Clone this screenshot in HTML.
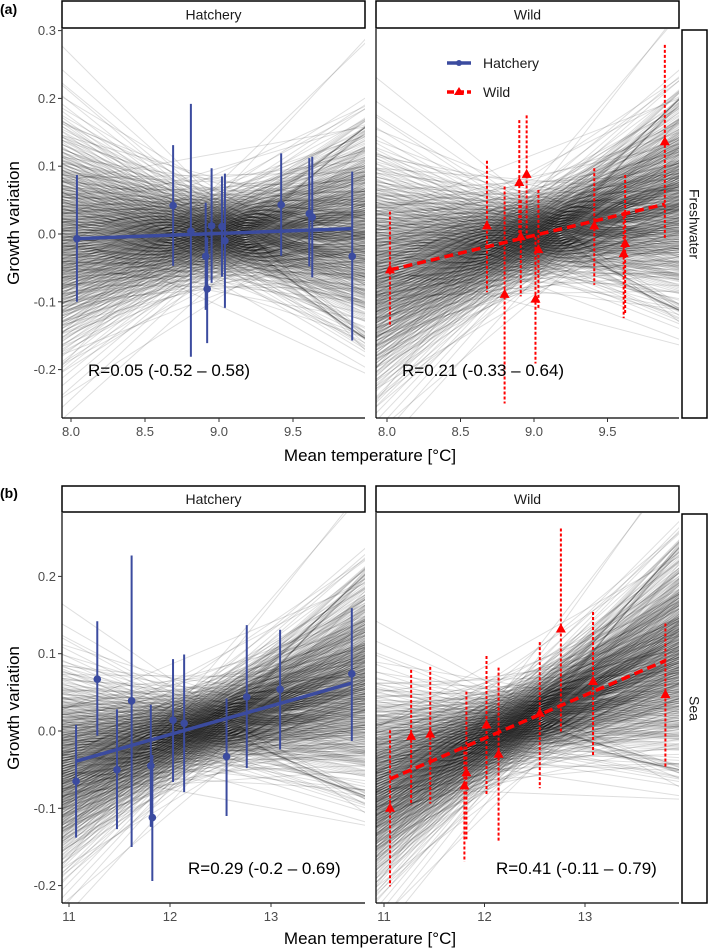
<!DOCTYPE html>
<html><head><meta charset="utf-8"><style>
html,body{margin:0;padding:0;background:#fff;}
svg{display:block;font-family:"Liberation Sans",Arial,sans-serif;}
</style></head><body>
<svg id="chart" width="709" height="949" viewBox="0 0 709 949" xmlns="http://www.w3.org/2000/svg">
<defs>
<clipPath id="cA0"><rect x="62" y="29" width="303" height="389"/></clipPath>
<clipPath id="cA1"><rect x="376" y="29" width="303" height="389"/></clipPath>
<clipPath id="cB0"><rect x="62" y="513" width="303" height="390"/></clipPath>
<clipPath id="cB1"><rect x="376" y="513" width="303" height="390"/></clipPath>
</defs>
<g id="root"></g>
</svg>
<script>
// ---- data ----
const aHatchX=[8.04,8.69,8.81,8.91,8.92,8.95,9.02,9.04,9.42,9.61,9.63,9.90];
const aHatchY=[-0.007,0.042,0.004,-0.033,-0.081,0.012,0.011,-0.010,0.043,0.030,0.025,-0.033];
const aHatchHi=[0.087,0.131,0.192,0.046,-0.005,0.097,0.085,0.089,0.119,0.112,0.114,0.092];
const aHatchLo=[-0.100,-0.047,-0.181,-0.112,-0.161,-0.072,-0.063,-0.109,-0.032,-0.048,-0.064,-0.157];
const aHatchFit=[[8.02,-0.007],[9.90,0.008]];

const aWildX=[8.02,8.68,8.80,8.90,8.95,8.91,9.01,9.03,9.41,9.61,9.62,9.89];
const aWildY=[-0.053,0.012,-0.089,0.076,0.088,-0.004,-0.096,-0.023,0.012,-0.029,-0.014,0.136];
const aWildHi=[0.033,0.108,0.070,0.168,0.175,0.050,-0.004,0.065,0.097,0.033,0.087,0.279];
const aWildLo=[-0.137,-0.086,-0.250,-0.010,-0.005,-0.092,-0.191,-0.112,-0.075,-0.124,-0.117,-0.006];
const aWildFit=[[8.02,-0.053],[9.89,0.044]];

const bHatchX=[11.07,11.28,11.475,11.62,11.81,11.825,12.03,12.14,12.56,12.76,13.09,13.80];
const bHatchY=[-0.065,0.067,-0.050,0.039,-0.045,-0.112,0.014,0.010,-0.033,0.044,0.054,0.074];
const bHatchHi=[0.008,0.142,0.028,0.227,0.034,-0.031,0.093,0.099,0.042,0.137,0.131,0.159];
const bHatchLo=[-0.138,-0.006,-0.127,-0.150,-0.124,-0.194,-0.066,-0.079,-0.110,-0.048,-0.024,-0.013];
const bHatchFit=[[11.07,-0.039],[13.80,0.062]];

const bWildX=[11.06,11.27,11.46,11.82,11.80,12.02,12.14,12.55,12.76,13.08,13.80];
const bWildY=[-0.100,-0.007,-0.004,-0.054,-0.071,0.008,-0.030,0.023,0.132,0.064,0.047];
const bWildHi=[0.001,0.079,0.083,0.051,-0.020,0.097,0.082,0.115,0.262,0.154,0.139];
const bWildLo=[-0.201,-0.096,-0.094,-0.140,-0.169,-0.083,-0.143,-0.074,-0.001,-0.031,-0.048];
const bWildFit=[[11.06,-0.062],[13.80,0.091]];

// posterior-draw band parameters: [centerX, meanAtCenter, slope, sdIntercept, sdSlope]
const drawsA0=[9.0,0.0,0.008,0.034,0.075];
const drawsA1=[9.0,-0.002,0.052,0.034,0.075];
const drawsB0=[12.3,0.004,0.037,0.028,0.042];
const drawsB1=[12.3,0.007,0.056,0.028,0.042];

const yTicksA=[0.3,0.2,0.1,0.0,-0.1,-0.2];
const yTickLabelsA=["0.3","0.2","0.1","0.0","-0.1","-0.2"];
const yTicksB=[0.2,0.1,0.0,-0.1,-0.2];
const yTickLabelsB=["0.2","0.1","0.0","-0.1","-0.2"];
const xTicksA=[8.0,8.5,9.0,9.5];
const xTickLabelsA=["8.0","8.5","9.0","9.5"];
const xTicksB=[11,12,13];
const xTickLabelsB=["11","12","13"];

// ---- helpers ----
const NS="http://www.w3.org/2000/svg";
const root=document.getElementById('root');
function mk(tag,attrs,parent,text){const e=document.createElementNS(NS,tag);for(const k in attrs)e.setAttribute(k,attrs[k]);if(text!==undefined)e.textContent=text;(parent||root).appendChild(e);return e;}
function probit(p){
 const a=[-39.696830,220.946098,-275.928510,138.357751,-30.664798,2.506628];
 const b=[-54.476098,161.585836,-155.698979,66.801311,-13.280681];
 const c=[-0.007784894,-0.32239645,-2.400758,-2.549732,4.374664,2.938163];
 const d=[0.007784695,0.32246712,2.445134,3.754408];
 const pl=0.02425;let q,r;
 if(p<pl){q=Math.sqrt(-2*Math.log(p));return(((((c[0]*q+c[1])*q+c[2])*q+c[3])*q+c[4])*q+c[5])/((((d[0]*q+d[1])*q+d[2])*q+d[3])*q+1);}
 if(p>1-pl){q=Math.sqrt(-2*Math.log(1-p));return-(((((c[0]*q+c[1])*q+c[2])*q+c[3])*q+c[4])*q+c[5])/((((d[0]*q+d[1])*q+d[2])*q+d[3])*q+1);}
 q=p-0.5;r=q*q;return(((((a[0]*r+a[1])*r+a[2])*r+a[3])*r+a[4])*r+a[5])*q/(((((b[0]*r+b[1])*r+b[2])*r+b[3])*r+b[4])*r+1);
}
function frac(v){return v-Math.floor(v);}

const panels=[
 {id:'a-hatchery',clip:'cA0',x0:62,x1:365,y0:29,y1:418,xs:v=>71+(v-8)*148,ys:v=>234-v*678,xmin:7.9,xmax:10.1,draws:drawsA0,
  X:aHatchX,Y:aHatchY,H:aHatchHi,L:aHatchLo,F:aHatchFit,kind:'hatch',xt:xTicksA,xl:xTickLabelsA,yt:yTicksA,yl:yTickLabelsA,axisY:true},
 {id:'a-wild',clip:'cA1',x0:376,x1:679,y0:29,y1:418,xs:v=>387+(v-8)*147,ys:v=>234-v*678,xmin:7.9,xmax:10.1,draws:drawsA1,
  X:aWildX,Y:aWildY,H:aWildHi,L:aWildLo,F:aWildFit,kind:'wild',xt:xTicksA,xl:xTickLabelsA,yt:yTicksA,yl:yTickLabelsA,axisY:false},
 {id:'b-hatchery',clip:'cB0',x0:62,x1:365,y0:513,y1:903,xs:v=>69+(v-11)*101,ys:v=>731-v*773,xmin:10.8,xmax:14.1,draws:drawsB0,
  X:bHatchX,Y:bHatchY,H:bHatchHi,L:bHatchLo,F:bHatchFit,kind:'hatch',xt:xTicksB,xl:xTickLabelsB,yt:yTicksB,yl:yTickLabelsB,axisY:true},
 {id:'b-wild',clip:'cB1',x0:376,x1:679,y0:513,y1:903,xs:v=>384+(v-11)*100.5,ys:v=>731-v*773,xmin:10.8,xmax:14.1,draws:drawsB1,
  X:bWildX,Y:bWildY,H:bWildHi,L:bWildLo,F:bWildFit,kind:'wild',xt:xTicksB,xl:xTickLabelsB,yt:yTicksB,yl:yTickLabelsB,axisY:false}
];
const BLUE='#3b4b9f', RED='#ff0000';
const N=600;
panels.forEach(p=>{
 const g=mk('g',{'clip-path':'url(#'+p.clip+')',stroke:'#000','stroke-opacity':0.13,'stroke-width':1});
 
 
 const [xc,m,s,sa,sb]=p.draws;
 for(let i=0;i<N;i++){
  const za=probit(frac((i+0.5)*0.6180339887));
  const zb=probit(frac((i+0.5)*0.7548776662+0.13));
  const a=m+sa*za, b=s+sb*zb;
  const y0=a+b*(p.xmin-xc), y1=a+b*(p.xmax-xc);
  const ln=mk('line',{x1:p.xs(p.xmin).toFixed(1),y1:p.ys(y0).toFixed(1),x2:p.xs(p.xmax).toFixed(1),y2:p.ys(y1).toFixed(1)},g);
  
  
 }

 const ax=mk('g',{});
 
 
 mk('line',{x1:p.x0,y1:p.y1,x2:p.x1,y2:p.y1,stroke:'#000','stroke-width':1.2},ax);
 mk('line',{x1:p.x0,y1:p.y0,x2:p.x0,y2:p.y1,stroke:'#000','stroke-width':1.2},ax);
 p.xt.forEach((v,i)=>{
  mk('line',{x1:p.xs(v),y1:p.y1,x2:p.xs(v),y2:p.y1+4,stroke:'#333','stroke-width':1},ax);
  const t=mk('text',{x:p.xs(v),y:p.y1+18,'text-anchor':'middle','font-size':13,fill:'#4d4d4d'},ax,p.xl[i]);
  
  
 });
 if(p.axisY){
  p.yt.forEach((v,i)=>{
   mk('line',{x1:p.x0-4,y1:p.ys(v),x2:p.x0,y2:p.ys(v),stroke:'#333','stroke-width':1},ax);
   const t=mk('text',{x:p.x0-6,y:p.ys(v)+4.5,'text-anchor':'end','font-size':13,fill:'#4d4d4d'},ax,p.yl[i]);
   
   
  });
 }

 const col=p.kind==='hatch'?BLUE:RED;
 const fit=mk('line',{x1:p.xs(p.F[0][0]),y1:p.ys(p.F[0][1]),x2:p.xs(p.F[1][0]),y2:p.ys(p.F[1][1]),stroke:col,'stroke-width':3.5});
 
 
 if(p.kind==='wild')fit.setAttribute('stroke-dasharray','9,5');

 const pg=mk('g',{});
 
 
 p.X.forEach((xv,i)=>{
  const px=p.xs(xv);
  const e=mk('line',{x1:px,y1:p.ys(p.H[i]),x2:px,y2:p.ys(p.L[i]),stroke:col,'stroke-width':2},pg);
  
  
  if(p.kind==='wild')e.setAttribute('stroke-dasharray','3,2');
  const py=p.ys(p.Y[i]);
  let pt;
  if(p.kind==='hatch') pt=mk('circle',{cx:px,cy:py,r:3.8,fill:col},pg);
  else pt=mk('path',{d:`M${px} ${py-5.5}L${px+5} ${py+3.5}L${px-5} ${py+3.5}Z`,fill:col},pg);
  
  
 });
});

function strip(x,y,w,h,label,vertical,name){
 const g=mk('g',{});
 
 
 mk('rect',{x:x,y:y,width:w,height:h,fill:'#fff',stroke:'#000','stroke-width':1.5},g);
 if(vertical) mk('text',{x:0,y:0,transform:`translate(${x+w/2-5},${y+h/2}) rotate(90)`,'text-anchor':'middle','font-size':14,fill:'#1a1a1a'},g,label);
 else mk('text',{x:x+w/2,y:y+h/2+5,'text-anchor':'middle','font-size':14,fill:'#1a1a1a'},g,label);
}
strip(62,1,303,27,'Hatchery',false,'strip-a-hatchery');
strip(376,1,303,27,'Wild',false,'strip-a-wild');
strip(682,30,25,388,'Freshwater',true,'strip-freshwater');
strip(62,486,303,26,'Hatchery',false,'strip-b-hatchery');
strip(376,486,303,26,'Wild',false,'strip-b-wild');
strip(682,514,25,389,'Sea',true,'strip-sea');

function txt(attrs,str,name){const t=mk('text',attrs,root,str);return t;}
txt({x:0,y:14,'font-size':14,'font-weight':'bold'},'(a)','panel-label-a');
txt({x:0,y:498,'font-size':14,'font-weight':'bold'},'(b)','panel-label-b');
txt({x:370,y:461,'text-anchor':'middle','font-size':17},'Mean temperature [°C]','x-axis-title-a');
txt({x:370,y:944,'text-anchor':'middle','font-size':17},'Mean temperature [°C]','x-axis-title-b');
txt({x:0,y:0,transform:'translate(19,223) rotate(-90)','text-anchor':'middle','font-size':17},'Growth variation','y-axis-title-a');
txt({x:0,y:0,transform:'translate(19,708) rotate(-90)','text-anchor':'middle','font-size':17},'Growth variation','y-axis-title-b');
txt({x:88,y:376,'font-size':17},'R=0.05 (-0.52 – 0.58)','r-label-a-hatchery');
txt({x:402,y:376,'font-size':17},'R=0.21 (-0.33 – 0.64)','r-label-a-wild');
txt({x:188,y:874,'font-size':17},'R=0.29 (-0.2 – 0.69)','r-label-b-hatchery');
txt({x:496,y:874,'font-size':17},'R=0.41 (-0.11 – 0.79)','r-label-b-wild');

const lg=mk('g',{});


mk('line',{x1:447,y1:63,x2:471,y2:63,stroke:BLUE,'stroke-width':3.5},lg);
mk('circle',{cx:459,cy:63,r:3,fill:BLUE},lg);
mk('text',{x:483,y:68,'font-size':14,fill:'#1a1a1a'},lg,'Hatchery');
mk('line',{x1:447,y1:92,x2:471,y2:92,stroke:RED,'stroke-width':3.5,'stroke-dasharray':'7,3'},lg);
mk('path',{d:'M459 87L464 95L454 95Z',fill:RED},lg);
mk('text',{x:483,y:97,'font-size':14,fill:'#1a1a1a'},lg,'Wild');
</script>
</body></html>
